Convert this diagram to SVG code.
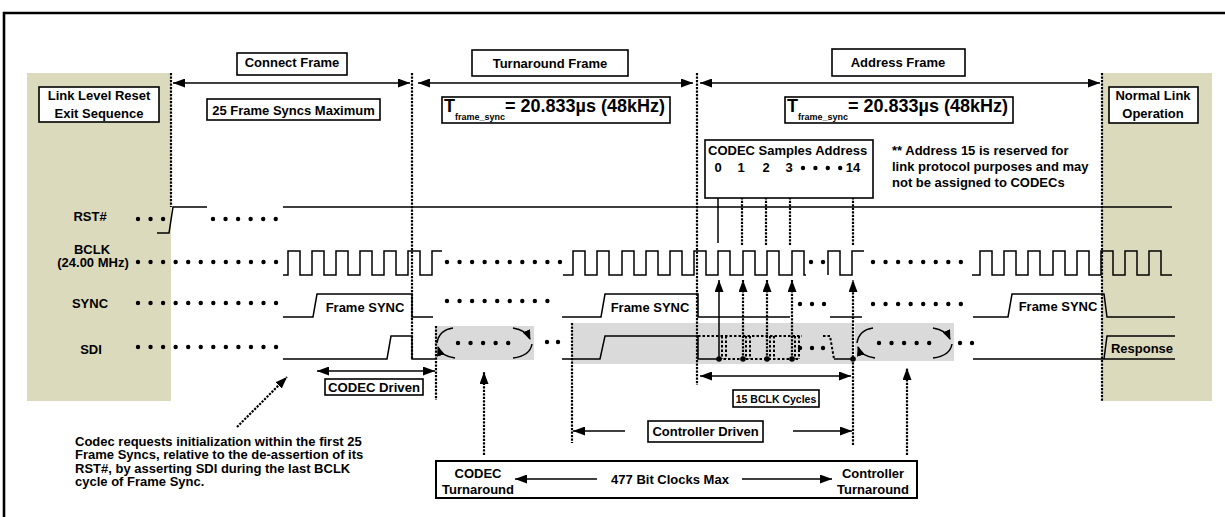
<svg xmlns="http://www.w3.org/2000/svg" width="1225" height="517" viewBox="0 0 1225 517">
<defs>
<marker id="ah" viewBox="0 0 12 9" refX="12" refY="4.5" markerWidth="12" markerHeight="9" markerUnits="userSpaceOnUse" orient="auto-start-reverse"><path d="M0,0 L12,4.5 L0,9 z" fill="#000"/></marker>
<marker id="ahs" viewBox="0 0 10 8" refX="9" refY="4" markerWidth="10" markerHeight="8" markerUnits="userSpaceOnUse" orient="auto"><path d="M0,0 L10,4 L0,8 z" fill="#000"/></marker>
<style>
.w{fill:none;stroke:#000;stroke-width:1.5}
.fl{fill:none;stroke:#000;stroke-width:2.2;stroke-dasharray:2.2 1.3}
.dt{fill:none;stroke:#000;stroke-width:2;stroke-dasharray:2.5 2}
.dots{fill:none;stroke:#000;stroke-width:4.4;stroke-linecap:round}
.bx{fill:#fff;stroke:#000;stroke-width:1.6}
.ar{fill:none;stroke:#000;stroke-width:1.5}
text{font-family:"Liberation Sans",Arial,sans-serif;font-weight:bold;font-size:13px;fill:#000}
.c{text-anchor:middle}
</style>
</defs>
<path d="M1230,13 H4 V520" fill="none" stroke="#000" stroke-width="2.6"/>
<rect x="27" y="73" width="144" height="328" fill="#dcdabd"/>
<rect x="1102" y="73" width="110" height="328" fill="#dcdabd"/>
<rect x="435" y="326" width="99" height="34" fill="#dadada"/>
<rect x="572" y="323" width="281" height="41" fill="#dadada"/>
<rect x="855" y="323" width="99" height="38" fill="#dadada"/>

<g id="waveforms">
<path class="w" d="M157,233 H169 L173,207 H207 M283,207 H1172"/>
<path class="w" d="M283,275 H288 V251 H300 V275 H312 V251 H324 V275 H336 V251 H348 V275 H360 V251 H372 V275 H384 V251 H396 V275 H408 V251 H420 V275 H432 V251 H442"/>
<path class="w" d="M563,275 H573 V251 H585 V275 H597 V251 H609 V275 H622 V251 H634 V275 H646 V251 H658 V275 H670 V251 H682 V275 H694 V251 H706 V275 H718 V251 H730 V275 H743 V251 H755 V275 H767 V251 H779 V275 H792 V251 H804 V275 H806"/>
<path class="w" d="M828,275 V251 H840 V275 H852 V251 H864"/>
<path class="w" d="M972,275 H980 V251 H992 V275 H1004 V251 H1016 V275 H1028 V251 H1040 V275 H1053 V251 H1065 V275 H1077 V251 H1089 V275 H1101 V251 H1113 V275 H1125 V251 H1137 V275 H1149 V251 H1161 V275 H1172"/>
<path class="w" d="M283,317 H313 L317,294 H412 V317 H433 M562,317 H601 L605,294 H698 V317 H790 M830,317 H862 M973,317 H1008 L1012,294 H1104 L1107,317 H1175"/>
<path class="w" d="M283,359 H387 L391,336 H412 V359 H435 M562,359 H600 L605,336 H698 V359 H719 M834,359 H853 M973,359 H1175 M1104,359 L1107,336 H1175"/>
<path class="dt" d="M698,336 H802 M719,359 H800 M722,336 V359 M726,336 V359 M746,336 V359 M750,336 V359 M770,336 V359 M774,336 V359 M795,336 V359 M799,336 V359 M823,336 H830 L834,359"/>
<g fill="#000"><circle cx="719" cy="359" r="2.8"/><circle cx="743" cy="359" r="2.8"/><circle cx="767" cy="359" r="2.8"/><circle cx="792" cy="359" r="2.8"/><circle cx="853" cy="359" r="2.8"/></g>
<path class="dots" stroke-dasharray="0 12.55" d="M138,219 H164 M213,219 H277 M138,262 H277 M447,262 H561 M873,262 H969 M138,303 H277 M447,301 H559 M873,304 H969 M138,347 H277 M458,343 H513 M879,343 H933"/>
<g fill="#000">
<circle cx="811" cy="262" r="2.2"/><circle cx="823" cy="262" r="2.2"/>
<circle cx="800" cy="304" r="2.2"/><circle cx="812" cy="304" r="2.2"/><circle cx="824" cy="304" r="2.2"/>
<circle cx="547" cy="342" r="2.2"/><circle cx="558" cy="342" r="2.2"/>
<circle cx="800" cy="348" r="2.2"/><circle cx="812" cy="348" r="2.2"/><circle cx="823" cy="348" r="2.2"/>
<circle cx="960" cy="343" r="2.2"/><circle cx="972" cy="343" r="2.2"/>
</g>
<path class="ar" d="M455,358 Q441,356 438,347" marker-end="url(#ahs)"/>
<path class="ar" d="M437,343 Q439,330 453,328"/>
<path class="ar" d="M513,328 Q526,330 530,339" marker-end="url(#ahs)"/>
<path class="ar" d="M532,344 Q530,356 513,358"/>
<path class="ar" d="M875,358 Q861,356 858,347" marker-end="url(#ahs)"/>
<path class="ar" d="M857,343 Q859,330 873,328"/>
<path class="ar" d="M933,328 Q946,330 950,339" marker-end="url(#ahs)"/>
<path class="ar" d="M952,344 Q950,356 933,358"/>
</g>

<g id="connectors">
<path class="fl" d="M171,73 V207 M412,73 V360 M436,326 V400 M572,323 V443 M697,73 V385 M1102,73 V401"/>
<line class="ar" x1="173" y1="83" x2="410" y2="83" marker-start="url(#ah)" marker-end="url(#ah)"/>
<line class="ar" x1="418" y1="83" x2="693" y2="83" marker-start="url(#ah)" marker-end="url(#ah)"/>
<line class="ar" x1="700" y1="83" x2="1100" y2="83" marker-start="url(#ah)" marker-end="url(#ah)"/>
<line class="ar" x1="718" y1="243" x2="718" y2="177" marker-end="url(#ah)"/>
<line class="fl" x1="742" y1="245" x2="742" y2="177" marker-end="url(#ah)"/>
<line class="fl" x1="766" y1="245" x2="766" y2="177" marker-end="url(#ah)"/>
<line class="fl" x1="790" y1="245" x2="790" y2="177" marker-end="url(#ah)"/>
<line class="fl" x1="853" y1="245" x2="853" y2="177" marker-end="url(#ah)"/>
<line class="ar" x1="719" y1="359" x2="719" y2="280" marker-end="url(#ah)"/>
<line class="fl" x1="743" y1="359" x2="743" y2="280" marker-end="url(#ah)"/>
<line class="fl" x1="767" y1="359" x2="767" y2="280" marker-end="url(#ah)"/>
<line class="fl" x1="792" y1="359" x2="792" y2="280" marker-end="url(#ah)"/>
<line class="fl" x1="853" y1="445" x2="853" y2="280" marker-end="url(#ah)"/>
<line class="fl" x1="484" y1="455" x2="484" y2="372" marker-end="url(#ah)"/>
<line class="fl" x1="907" y1="455" x2="907" y2="368" marker-end="url(#ah)"/>
<line class="fl" x1="237" y1="427" x2="287" y2="377" marker-end="url(#ah)"/>
<line class="ar" x1="317" y1="371" x2="435" y2="371" marker-start="url(#ah)" marker-end="url(#ah)"/>
<line class="ar" x1="700" y1="376" x2="851" y2="376" marker-start="url(#ah)" marker-end="url(#ah)"/>
<line class="ar" x1="625" y1="431" x2="573" y2="431" marker-end="url(#ah)"/>
<line class="ar" x1="793" y1="431" x2="852" y2="431" marker-end="url(#ah)"/>
</g>

<g id="signal-labels">
<text class="c" x="90" y="221">RST#</text>
<text class="c" x="92" y="254">BCLK</text>
<text class="c" x="93" y="267">(24.00 MHz)</text>
<text class="c" x="90" y="308">SYNC</text>
<text class="c" x="91" y="354">SDI</text>
<text class="c" x="365" y="312">Frame SYNC</text>
<text class="c" x="650" y="312">Frame SYNC</text>
<text class="c" x="1058" y="311">Frame SYNC</text>
<text class="c" x="1142" y="353">Response</text>
</g>

<g id="connect-frame"><rect class="bx" x="237" y="53" width="110" height="22"/><text class="c" x="292" y="67">Connect Frame</text></g>
<g id="turnaround-frame"><rect class="bx" x="472" y="50" width="156" height="26"/><text class="c" x="550" y="68">Turnaround Frame</text></g>
<g id="address-frame"><rect class="bx" x="832" y="49" width="133" height="27"/><text class="c" x="898" y="67">Address Frame</text></g>
<g id="link-reset"><rect class="bx" x="39" y="87" width="120" height="35"/><text class="c" x="99" y="100">Link Level Reset</text><text class="c" x="99" y="118">Exit Sequence</text></g>
<g id="normal-link"><rect class="bx" x="1109" y="87" width="89" height="36"/><text class="c" x="1153" y="100">Normal Link</text><text class="c" x="1153" y="118">Operation</text></g>
<g id="frame-syncs-max"><rect class="bx" x="207" y="99" width="173" height="21"/><text class="c" x="293.5" y="115">25 Frame Syncs Maximum</text></g>
<g id="tframe-1"><rect class="bx" x="442" y="97" width="228" height="26"/><text x="444" y="112" style="font-size:18px">T<tspan dy="8" style="font-size:9px">frame_sync</tspan><tspan dy="-8">= 20.833µs (48kHz)</tspan></text></g>
<g id="tframe-2"><rect class="bx" x="785" y="97" width="228" height="26"/><text x="787" y="112" style="font-size:18px">T<tspan dy="8" style="font-size:9px">frame_sync</tspan><tspan dy="-8">= 20.833µs (48kHz)</tspan></text></g>
<g id="codec-samples"><rect class="bx" x="705" y="140" width="168" height="58"/><text x="708" y="155">CODEC Samples Address</text>
<text class="c" x="718" y="172">0</text><text class="c" x="741" y="172">1</text><text class="c" x="766" y="172">2</text><text class="c" x="789" y="172">3</text>
<path class="dots" stroke-dasharray="0 12.4" d="M803,168 H841"/><text class="c" x="853" y="172">14</text></g>
<g id="address-note"><text x="892" y="155">** Address 15 is reserved for</text><text x="892" y="171">link protocol purposes and may</text><text x="892" y="187">not be assigned to CODECs</text></g>
<g id="codec-driven"><rect class="bx" x="325" y="379" width="98" height="16"/><text x="328" y="392" textLength="92" lengthAdjust="spacingAndGlyphs">CODEC Driven</text></g>
<g id="bclk-cycles"><rect class="bx" x="733" y="390" width="86" height="17"/><text class="c" x="776" y="403" style="font-size:10.5px">15 BCLK Cycles</text></g>
<g id="controller-driven"><rect class="bx" x="648" y="421" width="115" height="21"/><text class="c" x="705.5" y="436">Controller Driven</text></g>
<g id="codec-note"><text x="75" y="446">Codec requests initialization within the first 25</text><text x="75" y="459">Frame Syncs, relative to the de-assertion of its</text><text x="75" y="473">RST#, by asserting SDI during the last BCLK</text><text x="75" y="486">cycle of Frame Sync.</text></g>
<g id="turnaround-box"><rect class="bx" x="436" y="461" width="481" height="37" style="stroke-width:2"/>
<line class="ar" x1="597" y1="479" x2="515" y2="479" marker-end="url(#ah)"/>
<line class="ar" x1="742" y1="479" x2="832" y2="479" marker-end="url(#ah)"/>
<text class="c" x="478" y="478">CODEC</text><text class="c" x="478" y="494">Turnaround</text>
<text class="c" x="670" y="484">477 Bit Clocks Max</text>
<text class="c" x="873" y="478">Controller</text><text class="c" x="873" y="494">Turnaround</text></g>
</svg>
